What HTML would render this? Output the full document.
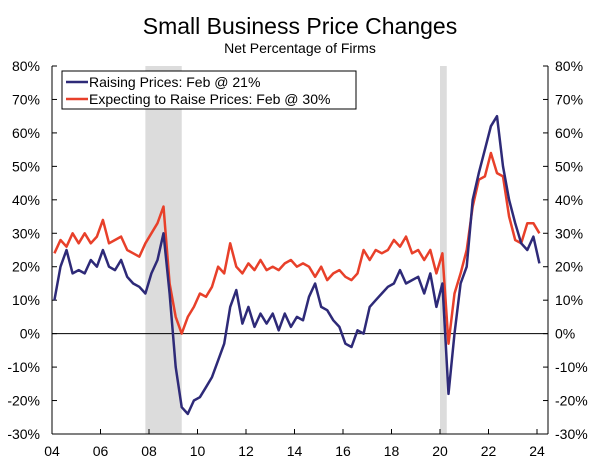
<!DOCTYPE html>
<html><head><meta charset="utf-8"><style>
body{margin:0;background:#fff;width:600px;height:461px;overflow:hidden;font-family:"Liberation Sans","DejaVu Sans",sans-serif}
</style></head><body>
<svg id="c" width="600" height="461" xmlns="http://www.w3.org/2000/svg" font-family="Liberation Sans, DejaVu Sans, sans-serif"></svg>
<script>
const yTicks=[80,70,60,50,40,30,20,10,0,-10,-20,-30];
const xTickYears=[2004,2006,2008,2010,2012,2014,2016,2018,2020,2022,2024];
const xTickLabels=["04","06","08","10","12","14","16","18","20","22","24"];
const recessions=[[2007.85,2009.35],[2020.0,2020.28]];
const raising=[10,20,25,18,19,18,22,20,25,20,19,22,17,15,14,12,18,22,30,12,-10,-22,-24,-20,-19,-16,-13,-8,-3,8,13,3,8,2,6,3,6,1,6,2,5,4,11,15,8,7,4,2,-3,-4,1,0,8,10,12,14,15,19,15,16,17,12,18,8,15,-18,0,15,20,40,48,55,62,65,50,40,33,27,25,29,21];
const expecting=[24,28,26,30,27,30,27,29,34,27,28,29,25,24,23,27,30,33,38,15,5,0,5,8,12,11,14,20,18,27,20,18,21,19,22,19,20,19,21,22,20,21,20,17,20,16,18,19,17,16,18,25,22,25,24,25,28,26,29,24,25,22,25,18,24,-3,12,18,25,38,46,47,54,48,47,35,28,27,33,33,30];
const L=52,R=548,T=66,B=434;
const X=d=>L+(d-2004)*24.25;
const Y=v=>T+(80-v)*(B-T)/110;
const dateOf=(i,n)=>i===n-1?2024.1:2004+i/4+0.1;
const s=document.getElementById('c');const NS="http://www.w3.org/2000/svg";
function mk(t,a,txt){const e=document.createElementNS(NS,t);for(const k in a)e.setAttribute(k,a[k]);if(txt!==undefined)e.textContent=txt;s.appendChild(e);return e;}
recessions.forEach(r=>{const e=mk('rect',{x:X(r[0]),y:T,width:X(r[1])-X(r[0]),height:B-T,fill:'#dcdcdc'});

});
let e=mk('line',{x1:L,x2:R,y1:Y(0),y2:Y(0),stroke:'#000','stroke-width':1});


e=mk('line',{x1:L,x2:L,y1:T,y2:B,stroke:'#000','stroke-width':1});


e=mk('line',{x1:R,x2:R,y1:T,y2:B,stroke:'#000','stroke-width':1});


e=mk('line',{x1:L,x2:R,y1:B,y2:B,stroke:'#000','stroke-width':1});


yTicks.forEach(v=>{const y=Y(v);
mk('line',{x1:L,x2:L+5,y1:y,y2:y,stroke:'#000'});mk('line',{x1:R-5,x2:R,y1:y,y2:y,stroke:'#000'});
let t=mk('text',{x:L-12,y:y+5,'text-anchor':'end','font-size':14,fill:'#000'},v+'%');


t=mk('text',{x:R+7,y:y+5,'text-anchor':'start','font-size':14,fill:'#000'},v+'%');

});
xTickYears.forEach((yr,i)=>{const x=X(yr);mk('line',{x1:x,x2:x,y1:B-5,y2:B,stroke:'#000'});
const t=mk('text',{x:x,y:456,'text-anchor':'middle','font-size':14,fill:'#000'},xTickLabels[i]);

});
function line(arr,col,name){const d=arr.map((v,i)=>(i?'L':'M')+X(dateOf(i,arr.length)).toFixed(1)+','+Y(v).toFixed(1)).join('');
const p=mk('path',{d:d,fill:'none',stroke:col,'stroke-width':2.5,'stroke-linejoin':'round'});

}
line(expecting,'#e8402a','expecting-line');
line(raising,'#2e2a78','raising-line');
e=mk('text',{x:300,y:34,'text-anchor':'middle','font-size':23,fill:'#000'},'Small Business Price Changes');


e=mk('text',{x:300,y:53,'text-anchor':'middle','font-size':14,fill:'#000'},'Net Percentage of Firms');


e=mk('rect',{x:62,y:71,width:294,height:38,fill:'#fff',stroke:'#000','stroke-width':1});


mk('line',{x1:66,x2:88,y1:82,y2:82,stroke:'#2e2a78','stroke-width':2.5});
e=mk('text',{x:89,y:87,'font-size':14,fill:'#000'},'Raising Prices: Feb @ 21%');


mk('line',{x1:66,x2:88,y1:99,y2:99,stroke:'#e8402a','stroke-width':2.5});
e=mk('text',{x:89,y:104,'font-size':14,fill:'#000'},'Expecting to Raise Prices: Feb @ 30%');


</script>
</body></html>
